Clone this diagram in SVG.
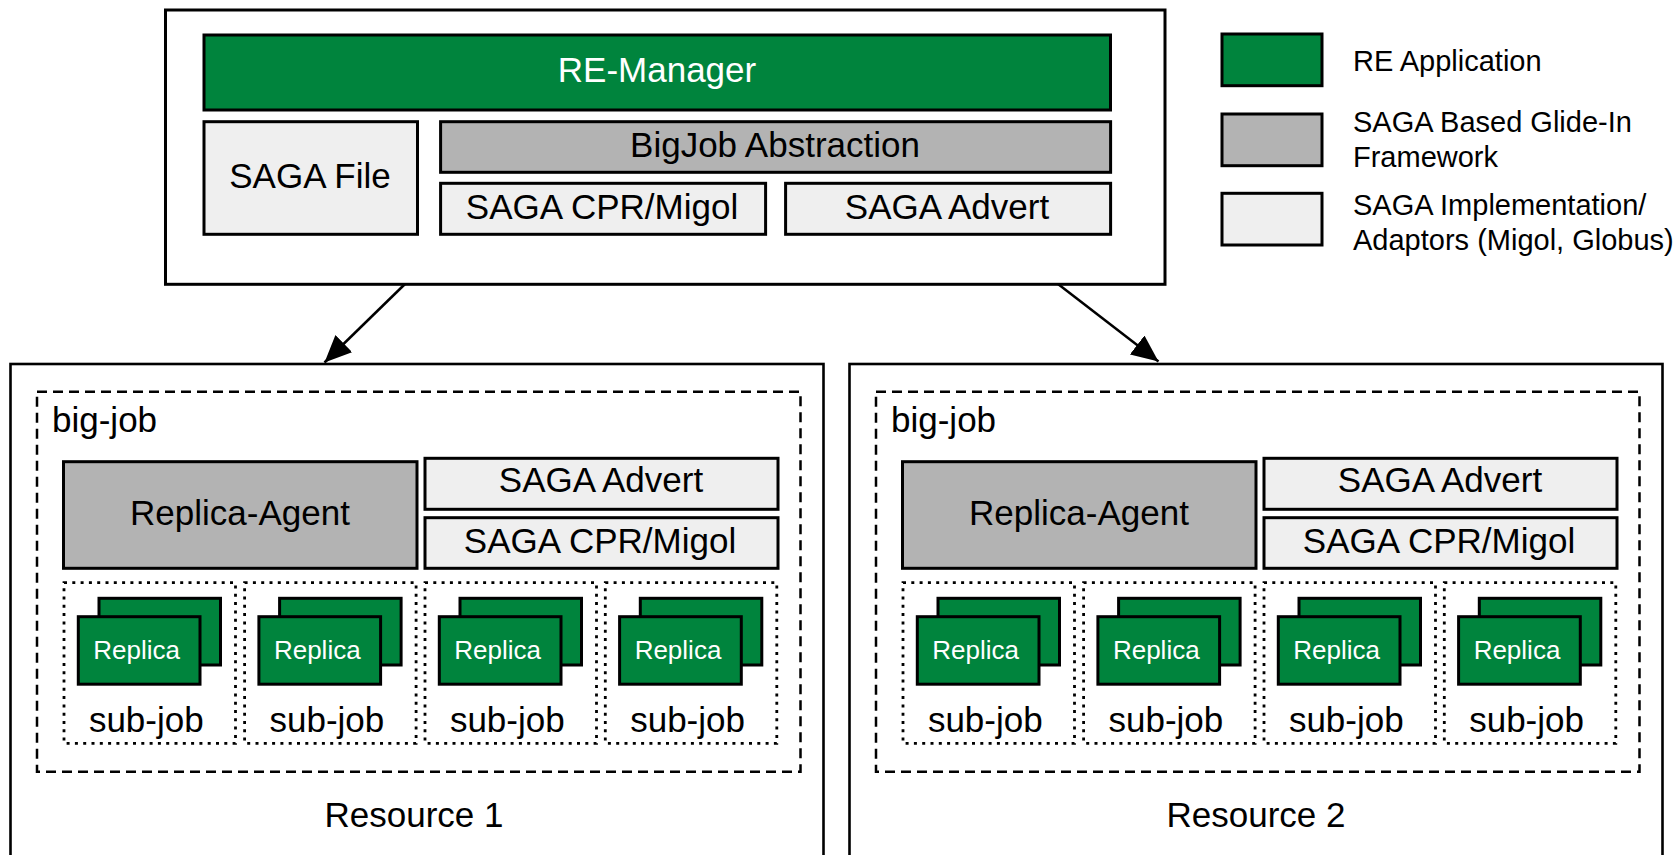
<svg xmlns="http://www.w3.org/2000/svg" width="1675" height="855" viewBox="0 0 1675 855">
<style>
  text { font-family: "Liberation Sans", Arial, Helvetica, sans-serif; fill: #000; }
  .frame { fill: #fff; stroke: #000; stroke-width: 2.6; }
  .app { fill: #00843d; stroke: #000; stroke-width: 3; }
  .glide { fill: #b3b3b3; stroke: #000; stroke-width: 3; }
  .impl { fill: #efefef; stroke: #000; stroke-width: 3; }
  .dash { fill: none; stroke: #000; stroke-width: 2.5; stroke-dasharray: 10 6; }
  .dot { fill: none; stroke: #000; stroke-width: 2.8; stroke-dasharray: 3 5.3; }
  .lbl { font-size: 35px; text-anchor: middle; }
  .lbl-w { font-size: 35px; text-anchor: middle; fill: #fff; }
  .rep { font-size: 26px; text-anchor: middle; fill: #fff; }
  .leg { font-size: 29px; }
  .conn { stroke: #000; stroke-width: 2.5; fill: none; marker-end: url(#arrow); }
</style>
<defs>
  <marker id="arrow" viewBox="0 0 27 24" refX="27" refY="12" markerWidth="27" markerHeight="24" markerUnits="userSpaceOnUse" orient="auto">
    <path d="M0,0 L27,12 L0,24 z" fill="#000"/>
  </marker>
  <g id="subjob">
    <rect class="dot" x="0" y="0" width="171.5" height="160.6"/>
    <rect class="app" x="35" y="15.6" width="121.5" height="66.7"/>
    <rect class="app" x="14.3" y="34" width="121.7" height="67.5"/>
    <text class="rep" x="72.7" y="76.6">Replica</text>
    <text class="lbl" x="82.3" y="149.3">sub-job</text>
  </g>
</defs>

<g id="re-manager-host">
  <rect class="frame" x="165.5" y="10" width="999.5" height="274.3" style="stroke-width:3"/>
  <g id="re-manager">
    <rect class="app" x="204" y="35" width="906.5" height="75"/>
    <text class="lbl-w" x="657" y="82">RE-Manager</text>
  </g>
  <g id="saga-file">
    <rect class="impl" x="204" y="121.7" width="213.5" height="112.6"/>
    <text class="lbl" x="310" y="188">SAGA File</text>
  </g>
  <g id="bigjob-abstraction">
    <rect class="glide" x="440.6" y="121.7" width="670" height="50.6"/>
    <text class="lbl" x="775" y="157">BigJob Abstraction</text>
  </g>
  <g id="saga-cpr-top">
    <rect class="impl" x="440.6" y="183.3" width="325" height="51"/>
    <text class="lbl" x="602" y="219">SAGA CPR/Migol</text>
  </g>
  <g id="saga-advert-top">
    <rect class="impl" x="785.6" y="183.3" width="325" height="51"/>
    <text class="lbl" x="947" y="219">SAGA Advert</text>
  </g>
</g>

<g id="legend">
  <g id="legend-app">
    <rect class="app" x="1222" y="34" width="100" height="51.7"/>
    <text class="leg" x="1353" y="70.7">RE Application</text>
  </g>
  <g id="legend-glide">
    <rect class="glide" x="1222" y="114" width="100" height="51.7"/>
    <text class="leg" x="1353" y="131.7">SAGA Based Glide-In</text>
    <text class="leg" x="1353" y="166.7">Framework</text>
  </g>
  <g id="legend-impl">
    <rect class="impl" x="1222" y="193.3" width="100" height="51.7"/>
    <text class="leg" x="1353" y="215">SAGA Implementation/</text>
    <text class="leg" x="1353" y="250">Adaptors (Migol, Globus)</text>
  </g>
</g>

<g id="resource-1">
  <rect class="frame" x="10.5" y="364" width="813" height="510"/>
  <g id="bigjob-1">
    <rect class="dash" x="37" y="391.7" width="763.5" height="380"/>
    <text class="lbl" x="52" y="431.7" style="text-anchor:start">big-job</text>
  </g>
  <g id="replica-agent-1">
    <rect class="glide" x="63.5" y="461.7" width="353.5" height="106.6"/>
    <text class="lbl" x="240" y="525">Replica-Agent</text>
  </g>
  <g id="saga-advert-1">
    <rect class="impl" x="425" y="458.3" width="353" height="51"/>
    <text class="lbl" x="601" y="492.3">SAGA Advert</text>
  </g>
  <g id="saga-cpr-1">
    <rect class="impl" x="425" y="517.7" width="353" height="50.6"/>
    <text class="lbl" x="600" y="553.3">SAGA CPR/Migol</text>
  </g>
  <g id="subjob-1-1"><use href="#subjob" x="64" y="582.7"/></g>
  <g id="subjob-1-2"><use href="#subjob" x="244.6" y="582.7"/></g>
  <g id="subjob-1-3"><use href="#subjob" x="425" y="582.7"/></g>
  <g id="subjob-1-4"><use href="#subjob" x="605.3" y="582.7"/></g>
  <text class="lbl" x="414" y="826.7">Resource 1</text>
</g>

<g id="resource-2">
  <rect class="frame" x="849.5" y="364" width="813" height="510"/>
  <g id="bigjob-2">
    <rect class="dash" x="876" y="391.7" width="763.5" height="380"/>
    <text class="lbl" x="891" y="431.7" style="text-anchor:start">big-job</text>
  </g>
  <g id="replica-agent-2">
    <rect class="glide" x="902.5" y="461.7" width="353.5" height="106.6"/>
    <text class="lbl" x="1079" y="525">Replica-Agent</text>
  </g>
  <g id="saga-advert-2">
    <rect class="impl" x="1264" y="458.3" width="353" height="51"/>
    <text class="lbl" x="1440" y="492.3">SAGA Advert</text>
  </g>
  <g id="saga-cpr-2">
    <rect class="impl" x="1264" y="517.7" width="353" height="50.6"/>
    <text class="lbl" x="1439" y="553.3">SAGA CPR/Migol</text>
  </g>
  <g id="subjob-2-1"><use href="#subjob" x="903" y="582.7"/></g>
  <g id="subjob-2-2"><use href="#subjob" x="1083.6" y="582.7"/></g>
  <g id="subjob-2-3"><use href="#subjob" x="1264" y="582.7"/></g>
  <g id="subjob-2-4"><use href="#subjob" x="1444.3" y="582.7"/></g>
  <text class="lbl" x="1256" y="826.7">Resource 2</text>
</g>

<g id="connectors">
  <line class="conn" x1="405" y1="284" x2="324.5" y2="362.5"/>
  <line class="conn" x1="1058" y1="284" x2="1158.5" y2="361.5"/>
</g>
</svg>
